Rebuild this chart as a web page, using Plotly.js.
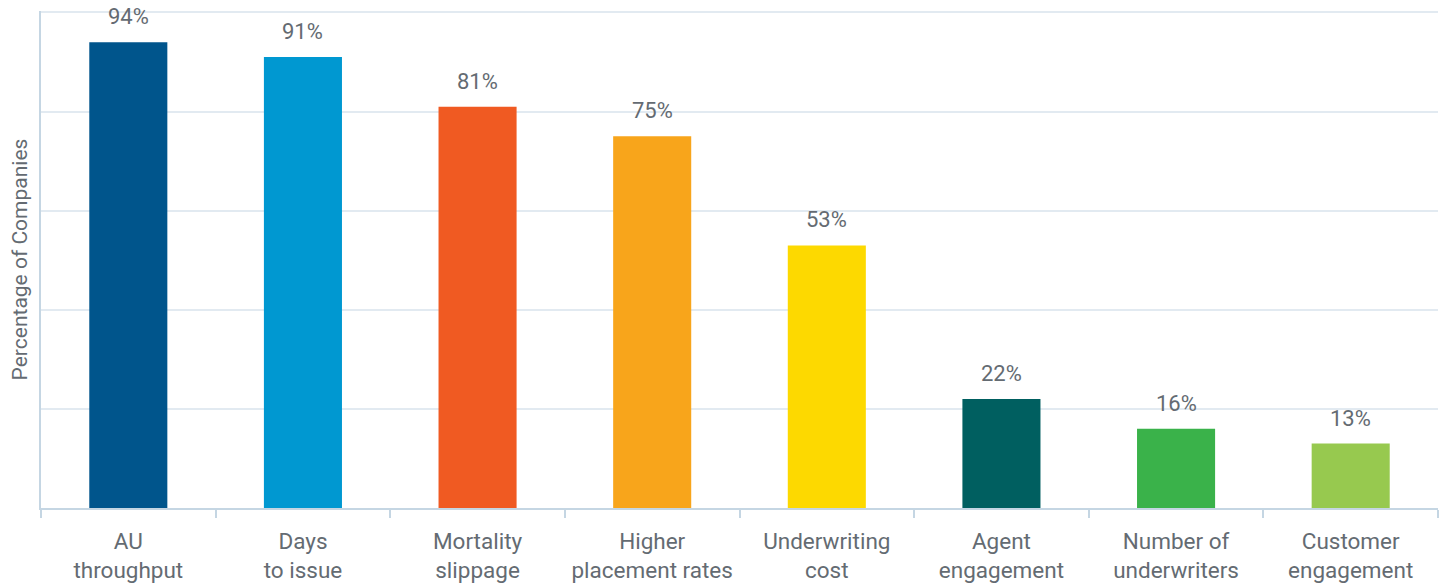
<!DOCTYPE html>
<html><head><meta charset="utf-8">
<script src="https://cdn.plot.ly/plotly-3.0.1.min.js"></script>
<style>html,body{margin:0;padding:0;background:#fff}</style>
</head><body>
<div id="chart" style="width:1445px;height:584px"></div>
<script>
const categories = ["AU<br>throughput","Days<br>to issue","Mortality<br>slippage","Higher<br>placement rates","Underwriting<br>cost","Agent<br>engagement","Number of<br>underwriters","Customer<br>engagement"];
const values = [94, 91, 81, 75, 53, 22, 16, 13];
const labels = ["94%","91%","81%","75%","53%","22%","16%","13%"];
const colors = ["#00558C","#0098D1","#F05A22","#F8A51B","#FDD900","#005F60","#3AB24A","#97C94F"];

const textColor = '#646b72';
const fontFam = 'Roboto, sans-serif';

const trace = {
  type: 'bar', x: categories, y: values,
  marker: {color: colors, line: {width: 0}},
  hoverinfo: 'none'
};
const annotations = categories.map((c, i) => ({
  x: c, y: values[i], text: labels[i], showarrow: false,
  xanchor: 'center', yanchor: 'bottom', yshift: 11,
  font: {family: fontFam, size: 22, color: textColor}
}));
const layout = {
  width: 1445, height: 584,
  margin: {l: 41, r: 7, t: 11, b: 76},
  paper_bgcolor: '#fff', plot_bgcolor: '#fff',
  bargap: 0.553, showlegend: false,
  font: {family: fontFam, color: textColor},
  annotations: annotations,
  xaxis: {
    type: 'category', tickson: 'boundaries', ticks: 'outside', ticklen: 8, tickwidth: 2,
    tickcolor: '#c5d6e3', showline: true, linecolor: '#c5d6e3', linewidth: 2,
    tickfont: {family: fontFam, size: 22.5, color: textColor},
    tickangle: 0, ticklabelstandoff: 12,
    showgrid: false, automargin: false
  },
  yaxis: {
    range: [0, 100.3], dtick: 20, tick0: 0, showticklabels: false, ticks: '',
    showgrid: true, gridcolor: '#e2eaf1', gridwidth: 2, zeroline: false,
    showline: true, linecolor: '#c5d6e3', linewidth: 2,
    title: {text: 'Percentage of Companies', standoff: 6, font: {family: fontFam, size: 21, color: textColor}},
    automargin: false
  }
};
Plotly.newPlot('chart', [trace], layout, {displayModeBar: false, staticPlot: true});
</script>
</body></html>
